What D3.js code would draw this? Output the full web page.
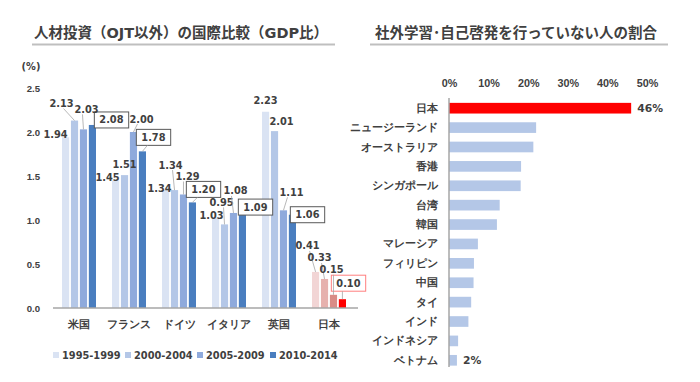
<!DOCTYPE html>
<html><head><meta charset="utf-8">
<script src="https://cdn.jsdelivr.net/npm/d3@7"></script>
<style>
body{margin:0;background:#fff;}
svg{font-family:"DejaVu Sans","Noto Sans CJK JP",sans-serif;font-weight:bold;fill:#404040;}
.palt{font-feature-settings:"palt";}
</style></head><body>
<svg id="c" width="700" height="382"></svg>
<script>
// ---- Left chart data ----
const countries = ["米国","フランス","ドイツ","イタリア","英国","日本"];
const periods = ["1995-1999","2000-2004","2005-2009","2010-2014"];
const v1995 = [1.94,1.45,1.34,1.03,2.23,0.41];
const v2000 = [2.13,1.51,1.34,0.95,2.01,0.33];
const v2005 = [2.03,2.00,1.29,1.08,1.11,0.15];
const v2010 = [2.08,1.78,1.20,1.09,1.06,0.10];
const yTicks = [0,0.5,1.0,1.5,2.0,2.5];

// ---- Right chart data ----
const regions = ["日本","ニュージーランド","オーストラリア","香港","シンガポール","台湾","韓国","マレーシア","フィリピン","中国","タイ","インド","インドネシア","ベトナム"];
const shares = [46,22,21.3,18.2,18.1,12.8,12.1,7.3,6.3,6.2,5.6,4.9,2.3,2.0];
const xTicks = [0,10,20,30,40,50];

// ---- styling / layout (not data) ----
const blueColors = ["#dae3f3","#b4c7e7","#8faadc","#4a7ebf"];
const redColors = ["#f2d5d5","#e6b1ae","#d98c87","#ff0000"];
// label offsets (dx, dy) relative to bar top centre, per series then country
const labelOff = [
  [[-10,-3],[-8,-3],[-6,-2],[-4,-2],[0,-11],[-8,-26]],
  [[-13,-17],[0,-11],[-4,-25],[-3,-22],[7,-10],[-5,-21]],
  [[3,-20],[8,-13],[4,-18],[2,-22],[8,-18],[-2,-25]],
  [[19,-5],[11,-14],[11,-13],[13,-5],[15,0],[6,-16]]
];

const svg = d3.select("#c");
const series = [v1995,v2000,v2005,v2010];

// Titles
function title(x, y, txt, lx1, lx2, ly){
  svg.append("text").attr("x",x).attr("y",y).attr("text-anchor","middle")
    .attr("dominant-baseline","central").style("font-size","14.5px").style("fill","#404040").text(txt);
  svg.append("line").attr("x1",lx1).attr("x2",lx2).attr("y1",ly).attr("y2",ly)
    .attr("stroke","#bfbfbf").attr("stroke-width",2);
}
title(181,33,"人材投資（OJT以外）の国際比較（GDP比）",32,335,44.5);
title(516,33,"社外学習･自己啓発を行っていない人の割合",370,668,44.5);

// ---- Left chart ----
const y = d3.scaleLinear().domain([0,2.5]).range([308,88]);
const x0 = d3.scaleBand().domain(countries).range([54,354]).padding(0);
const x1 = d3.scaleBand().domain(d3.range(4)).range([8,42]).paddingInner(0.2).paddingOuter(0);

svg.append("text").attr("x",31).attr("y",66).attr("text-anchor","middle").attr("dominant-baseline","central")
  .style("font-size","9.8px").text("(%)");

const yAxis = svg.append("g").attr("transform","translate(40,0)")
  .call(d3.axisLeft(y).tickValues(yTicks).tickFormat(d3.format(".1f")).tickSize(0).tickPadding(0));
yAxis.select(".domain").remove();
yAxis.selectAll("text").style("font-size","9.6px").style("font-family","inherit").style("font-weight","bold").attr("fill","#404040");

const groups = svg.append("g");
countries.forEach((c,ci)=>{
  series.forEach((s,si)=>{
    const v = s[ci];
    const bx = x0(c)+x1(si);
    const bw = x1.bandwidth();
    const col = c==="日本" ? redColors[si] : blueColors[si];
    groups.append("rect").attr("x",bx).attr("y",y(v)).attr("width",bw).attr("height",y(0)-y(v)).attr("fill",col);
  });
});

// axis baseline
svg.append("line").attr("x1",53).attr("x2",358).attr("y1",y(0)).attr("y2",y(0)).attr("stroke","#a6a6a6").attr("stroke-width",1.5);

// category labels
const xAxis = svg.append("g").attr("transform",`translate(0,${y(0)})`)
  .call(d3.axisBottom(x0).tickSize(0).tickPadding(13));
xAxis.select(".domain").remove();
xAxis.selectAll("text").attr("class","palt").style("font-size","10.5px").style("font-family","inherit").style("font-weight","bold").attr("fill","#404040");

// value labels
const lab = svg.append("g");
countries.forEach((c,ci)=>{
  series.forEach((s,si)=>{
    const v = s[ci];
    const cx = x0(c)+x1(si)+x1.bandwidth()/2;
    const top = y(v);
    const [dx,dy] = labelOff[si][ci];
    const lx = cx+dx, ly = top+dy;
    if (dy < -12 && si<3) {
      lab.append("line").attr("x1",lx+ (dx<0?2:-4)).attr("y1",ly+5).attr("x2",cx).attr("y2",top)
        .attr("stroke","#a6a6a6").attr("stroke-width",0.8);
    }
    if (si===3 && dy < -10) {
      lab.append("line").attr("x1",lx-6).attr("y1",ly+8).attr("x2",cx).attr("y2",top)
        .attr("stroke","#a6a6a6").attr("stroke-width",0.8);
    }
    const t = lab.append("text").attr("x",lx).attr("y",ly).attr("text-anchor","middle")
      .attr("dominant-baseline","central").style("font-size","9.8px").text(v.toFixed(2));
    if (si===3) {
      const bb = t.node().getBBox();
      lab.insert("rect","text").attr("x",bb.x-5).attr("y",ly-8).attr("width",bb.width+10).attr("height",16)
        .attr("fill","#fff").attr("stroke", c==="日本" ? "#ff7f7f" : "#595959").attr("stroke-width",1);
    }
  });
});

// legend
const legX = [53,125,197,270];
periods.forEach((p,i)=>{
  svg.append("rect").attr("x",legX[i]).attr("y",352).attr("width",6).attr("height",6).attr("fill",blueColors[i]);
  svg.append("text").attr("x",legX[i]+9).attr("y",355).attr("dominant-baseline","central")
    .style("font-size","9.8px").text(p);
});

// ---- Right chart ----
const xr = d3.scaleLinear().domain([0,50]).range([449,647]);
const yr = d3.scaleBand().domain(regions).range([98.5,370]).paddingInner(0.45).paddingOuter(0.225);

const xrAxis = svg.append("g").attr("transform","translate(0,83)")
  .call(d3.axisTop(xr).tickValues(xTicks).tickFormat(d=>d+"%").tickSize(0).tickPadding(0));
xrAxis.select(".domain").remove();
xrAxis.selectAll("text").attr("dy","0.35em").style("font-size","10.8px").style("font-family","inherit").style("font-weight","bold").attr("fill","#404040");

svg.append("g").selectAll("rect").data(regions).join("rect")
  .attr("x",xr(0)).attr("y",d=>yr(d)).attr("height",yr.bandwidth())
  .attr("width",(d,i)=>xr(shares[i])-xr(0))
  .attr("fill",d=>d==="日本"?"#ff0000":"#b4c7e7");

svg.append("line").attr("x1",449).attr("x2",449).attr("y1",98).attr("y2",367).attr("stroke","#a6a6a6").attr("stroke-width",1.5);

const yrAxis = svg.append("g").attr("transform","translate(438,0)")
  .call(d3.axisLeft(yr).tickSize(0).tickPadding(0));
yrAxis.select(".domain").remove();
yrAxis.selectAll("text").attr("class","palt").style("font-size","11px").style("font-family","inherit").style("font-weight","bold").attr("fill","#404040");

[0, regions.length-1].forEach(i=>{
  svg.append("text").attr("x",xr(shares[i])+6).attr("y",yr(regions[i])+yr.bandwidth()/2)
    .attr("dominant-baseline","central").style("font-size","10.8px").text(Math.round(shares[i])+"%");
});
</script>
</body></html>
